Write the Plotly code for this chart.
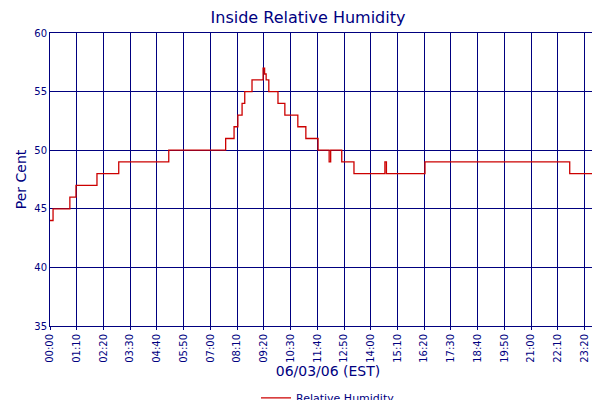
import plotly.graph_objects as go
import pandas as pd

# minutes after midnight and humidity values (step changes)
minutes = [0, 8, 52, 68, 123, 180, 311, 460, 482, 492, 503, 510, 529, 558, 562, 566,
           573, 597, 615, 649, 670, 702, 731, 735, 764, 796, 877, 881, 982, 1361, 1448, 1455]
humidity = [44, 45, 46, 47, 48, 49, 50, 51, 52, 53, 54, 55, 56, 57, 56.5, 56,
            55, 54, 53, 52, 51, 50, 49, 50, 49, 48, 49, 48, 49, 48, 49, 49]

start = pd.Timestamp("2006-06-03 00:00")
times = [start + pd.Timedelta(minutes=m) for m in minutes]
tickvals = [start + pd.Timedelta(minutes=70 * i) for i in range(21)] + [start + pd.Timedelta(minutes=1455)]
ticktext = [t.strftime("%H:%M") for t in tickvals]

navy = "#00007f"
fig = go.Figure(go.Scatter(x=times, y=humidity, mode="lines", line_shape="hv",
                           line=dict(color="#cc0000", width=1.3), name="Relative Humidity"))
fig.update_layout(
    width=600, height=400,
    margin=dict(l=42, r=2, t=25, b=82, autoexpand=False),
    plot_bgcolor="white", paper_bgcolor="white",
    font=dict(family="DejaVu Sans", color=navy, size=10),
    title=dict(text="Inside Relative Humidity", x=0.5, y=0.99, yanchor="top",
               font=dict(size=16, color=navy)),
    showlegend=True,
    legend=dict(orientation="h", x=0.5, xanchor="center", y=-0.245, yanchor="middle",
                font=dict(size=11, color=navy)),
    xaxis=dict(range=[start, start + pd.Timedelta(minutes=1456)], tickvals=tickvals, ticktext=ticktext,
               tickangle=-90, showgrid=True, gridcolor=navy, gridwidth=1,
               showline=True, linecolor=navy, linewidth=1, mirror=True,
               ticks="outside", ticklen=3, tickcolor=navy, automargin=False,
               title=dict(text="06/03/06 (EST)", font=dict(size=14, color=navy), standoff=4)),
    yaxis=dict(range=[35, 60], dtick=5, showgrid=True, gridcolor=navy, gridwidth=1,
               showline=True, linecolor=navy, linewidth=1, mirror=True, zeroline=False,
               automargin=False,
               title=dict(text="Per Cent", font=dict(size=14, color=navy), standoff=4)),
)
fig.write_html("out.html")
